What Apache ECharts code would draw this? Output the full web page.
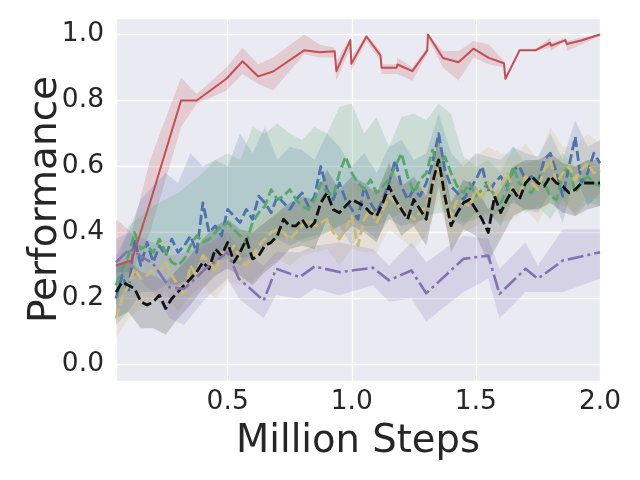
<!DOCTYPE html>
<html>
<head>
<meta charset="utf-8">
<script src="https://cdn.jsdelivr.net/npm/echarts@6/dist/echarts.min.js"></script>
<style>
  html, body { margin: 0; padding: 0; background: #fff; }
  #chart { width: 640px; height: 480px; }
</style>
</head>
<body>
<div id="chart"></div>
<script>
// Courbe rouge (trait plein)
const redX = [0.05,0.113,0.187,0.312,0.375,0.495,0.56,0.623,0.683,0.808,0.871,0.931,0.938,0.994,0.998,1.059,1.116,1.12,1.18,1.184,1.244,1.304,1.307,1.367,1.43,1.49,1.552,1.613,1.619,1.676,1.74,1.799,1.803,1.861,1.866,1.924,2.0];
const redY = [0.30,0.315,0.49,0.80,0.80,0.866,0.919,0.873,0.888,0.952,0.946,0.949,0.889,0.983,0.911,0.994,0.936,0.899,0.899,0.909,0.889,0.952,1.0,0.929,0.916,0.957,0.929,0.913,0.866,0.952,0.952,0.975,0.966,0.983,0.971,0.982,1.0];
const redLo = [0.28,0.28,0.40,0.72,0.79,0.83,0.88,0.85,0.83,0.94,0.93,0.93,0.86,0.96,0.89,0.98,0.92,0.88,0.88,0.88,0.86,0.94,0.99,0.90,0.86,0.93,0.91,0.90,0.86,0.95,0.95,0.96,0.95,0.98,0.95,0.97,0.995];
const redHi = [0.44,0.40,0.62,0.87,0.82,0.90,0.96,0.91,0.93,1.00,0.97,0.96,0.92,0.99,0.93,1.0,0.95,0.91,0.91,0.93,0.90,0.96,1.0,0.95,0.95,0.98,0.97,0.92,0.87,0.955,0.955,0.99,0.975,0.99,0.98,0.99,1.0];

// Courbe violette (tiret-point)
const purpleX = [0.05,0.105,0.20,0.265,0.325,0.41,0.50,0.545,0.645,0.695,0.79,0.85,0.95,1.085,1.15,1.24,1.30,1.45,1.55,1.595,1.70,1.75,1.85,2.0];
const purpleY = [0.31,0.35,0.305,0.234,0.229,0.29,0.34,0.26,0.194,0.29,0.265,0.297,0.28,0.293,0.255,0.285,0.216,0.32,0.33,0.214,0.29,0.26,0.315,0.34];
const purpleLo = [0.24,0.28,0.22,0.14,0.12,0.20,0.26,0.20,0.14,0.21,0.20,0.23,0.21,0.24,0.19,0.20,0.13,0.22,0.26,0.14,0.22,0.22,0.22,0.26];
const purpleHi = [0.38,0.40,0.37,0.33,0.34,0.36,0.40,0.35,0.30,0.34,0.34,0.36,0.37,0.35,0.30,0.37,0.31,0.39,0.38,0.29,0.37,0.30,0.41,0.41];

// Courbes bruitées (tirets)
const noisyX = [0.05,0.075,0.1,0.125,0.15,0.175,0.2,0.225,0.25,0.275,0.3,0.325,0.35,0.375,0.4,0.425,0.45,0.475,0.5,0.525,0.55,0.575,0.6,0.625,0.65,0.675,0.7,0.725,0.75,0.775,0.8,0.825,0.85,0.875,0.9,0.925,0.95,0.975,1.0,1.025,1.05,1.075,1.1,1.125,1.15,1.175,1.2,1.225,1.25,1.275,1.3,1.325,1.35,1.375,1.4,1.425,1.45,1.475,1.5,1.525,1.55,1.575,1.6,1.625,1.65,1.675,1.7,1.725,1.75,1.775,1.8,1.825,1.85,1.875,1.9,1.925,1.95,1.975,2.0];
const blueY = [0.20,0.27,0.22,0.38,0.30,0.37,0.31,0.36,0.33,0.38,
  0.34,0.36,0.39,0.34,0.49,0.40,0.42,0.39,0.47,0.45,
  0.43,0.47,0.44,0.51,0.49,0.46,0.51,0.49,0.47,0.50,
  0.52,0.48,0.51,0.60,0.53,0.50,0.55,0.50,0.47,0.44,
  0.54,0.49,0.46,0.50,0.55,0.62,0.54,0.50,0.53,0.51,
  0.55,0.61,0.70,0.59,0.54,0.52,0.50,0.53,0.56,0.60,
  0.52,0.55,0.57,0.54,0.59,0.60,0.56,0.57,0.55,0.62,
  0.64,0.58,0.51,0.60,0.69,0.55,0.58,0.64,0.61];
const greenY = [0.24,0.29,0.33,0.40,0.35,0.36,0.34,0.38,0.34,0.31,
  0.30,0.32,0.36,0.39,0.37,0.38,0.40,0.42,0.43,0.41,
  0.39,0.37,0.43,0.46,0.48,0.53,0.50,0.51,0.53,0.50,
  0.48,0.47,0.50,0.55,0.52,0.51,0.58,0.63,0.58,0.55,
  0.53,0.56,0.52,0.54,0.56,0.60,0.64,0.57,0.52,0.56,
  0.58,0.65,0.60,0.63,0.58,0.54,0.52,0.55,0.51,0.53,
  0.55,0.51,0.49,0.53,0.60,0.55,0.53,0.52,0.56,0.55,
  0.51,0.50,0.58,0.60,0.52,0.55,0.57,0.55,0.54];
const yellowY = [0.14,0.20,0.24,0.29,0.26,0.27,0.29,0.28,0.31,0.27,
  0.24,0.21,0.30,0.27,0.33,0.31,0.28,0.34,0.33,0.36,
  0.32,0.30,0.33,0.36,0.38,0.40,0.41,0.40,0.38,0.40,
  0.42,0.44,0.42,0.43,0.44,0.40,0.38,0.41,0.45,0.36,
  0.44,0.47,0.43,0.47,0.51,0.49,0.47,0.46,0.44,0.46,
  0.48,0.54,0.60,0.52,0.45,0.50,0.49,0.48,0.53,0.50,
  0.55,0.51,0.54,0.58,0.53,0.51,0.57,0.55,0.53,0.59,
  0.62,0.55,0.58,0.60,0.56,0.59,0.61,0.58,0.59];
const blackY = [0.22,0.25,0.24,0.23,0.19,0.18,0.19,0.21,0.17,0.20,
  0.22,0.24,0.26,0.28,0.31,0.29,0.35,0.33,0.37,0.31,
  0.34,0.38,0.32,0.33,0.36,0.37,0.39,0.44,0.42,0.42,
  0.44,0.41,0.43,0.49,0.52,0.47,0.46,0.48,0.50,0.49,
  0.48,0.46,0.45,0.49,0.54,0.50,0.47,0.44,0.50,0.47,
  0.44,0.55,0.62,0.51,0.42,0.46,0.49,0.50,0.47,0.44,
  0.40,0.51,0.46,0.50,0.53,0.50,0.55,0.57,0.55,0.54,
  0.57,0.55,0.54,0.52,0.53,0.55,0.55,0.55,0.55];

// Bandes des courbes bruitées
const bandX = [0.05,0.1,0.15,0.2,0.25,0.3,0.35,0.4,0.45,0.5,0.55,0.6,0.65,0.7,0.75,0.8,0.85,0.9,0.95,1.0,1.05,1.1,1.15,1.2,1.25,1.3,1.35,1.4,1.45,1.5,1.55,1.6,1.65,1.7,1.75,1.8,1.85,1.9,1.95,2.0];
const blueHi = [0.33,0.40,0.50,0.54,0.58,0.55,0.64,0.60,0.62,0.60,0.70,0.64,0.72,0.62,0.66,0.65,0.62,0.70,0.66,0.60,0.64,0.58,0.66,0.68,0.62,0.64,0.76,0.64,0.60,0.64,0.63,0.62,0.66,0.64,0.63,0.70,0.62,0.74,0.66,0.68];
const blueLo = [0.12,0.16,0.22,0.22,0.24,0.24,0.26,0.34,0.30,0.34,0.32,0.33,0.36,0.38,0.36,0.38,0.39,0.40,0.42,0.36,0.41,0.38,0.44,0.42,0.43,0.44,0.58,0.44,0.42,0.46,0.43,0.47,0.49,0.47,0.46,0.52,0.43,0.58,0.48,0.52];
const greenHi = [0.30,0.42,0.45,0.48,0.50,0.52,0.55,0.58,0.62,0.64,0.62,0.72,0.70,0.73,0.70,0.68,0.72,0.70,0.78,0.79,0.70,0.75,0.66,0.75,0.76,0.74,0.79,0.76,0.63,0.60,0.62,0.58,0.66,0.61,0.62,0.60,0.64,0.60,0.62,0.60];
const greenLo = [0.18,0.26,0.28,0.27,0.25,0.24,0.27,0.29,0.31,0.32,0.30,0.33,0.36,0.38,0.39,0.37,0.38,0.40,0.42,0.44,0.42,0.42,0.44,0.46,0.42,0.45,0.46,0.46,0.43,0.44,0.46,0.42,0.50,0.46,0.48,0.44,0.50,0.45,0.49,0.48];
const yellowHi = [0.22,0.32,0.34,0.36,0.38,0.32,0.36,0.40,0.36,0.42,0.40,0.42,0.46,0.49,0.46,0.50,0.50,0.52,0.46,0.55,0.54,0.52,0.60,0.56,0.53,0.57,0.68,0.58,0.62,0.63,0.66,0.64,0.63,0.67,0.62,0.72,0.66,0.66,0.70,0.67];
const yellowLo = [0.08,0.14,0.17,0.20,0.22,0.16,0.21,0.24,0.20,0.25,0.24,0.25,0.29,0.32,0.30,0.33,0.34,0.35,0.30,0.35,0.34,0.34,0.41,0.38,0.35,0.39,0.50,0.36,0.40,0.42,0.45,0.43,0.44,0.47,0.43,0.50,0.48,0.46,0.51,0.50];
const blackHi = [0.30,0.32,0.28,0.27,0.25,0.29,0.33,0.38,0.42,0.44,0.41,0.40,0.43,0.46,0.49,0.51,0.50,0.59,0.53,0.57,0.55,0.52,0.61,0.54,0.57,0.51,0.69,0.49,0.56,0.54,0.47,0.53,0.60,0.62,0.62,0.64,0.61,0.60,0.62,0.62];
const blackLo = [0.14,0.16,0.11,0.11,0.09,0.14,0.18,0.23,0.27,0.29,0.27,0.24,0.28,0.31,0.35,0.36,0.35,0.44,0.38,0.42,0.40,0.37,0.46,0.39,0.42,0.36,0.54,0.34,0.41,0.39,0.31,0.38,0.45,0.47,0.47,0.49,0.46,0.45,0.47,0.48];

// Couleurs (palette seaborn)
const COLORS = {
  red: '#C44E52',
  blue: '#4C72B0',
  green: '#55A868',
  yellow: '#CCB974',
  purple: '#8172B2',
  black: '#111111',
};

const FONT = 'DejaVu Sans';
const TEXT = '#262626';

function zip(xs, ys) {
  return xs.map((x, i) => [x, ys[i]]);
}

// Bande remplie entre lo et hi (polygone via les échelles de l'axe)
function bandSeries(xs, lo, hi, color, alpha) {
  return {
    type: 'custom', silent: true, z: 1,
    data: xs.map((x, i) => [x, lo[i], hi[i]]),
    encode: { x: 0, y: [1, 2] },
    renderItem: (params, api) => {
      if (params.dataIndex !== 0) return null;
      const top = xs.map((x, i) => api.coord([x, hi[i]]));
      const bottom = xs.map((x, i) => api.coord([x, lo[i]])).reverse();
      return {
        type: 'polygon',
        shape: { points: top.concat(bottom) },
        style: { fill: color, opacity: alpha },
      };
    },
  };
}

function lineSeries(xs, ys, color, width, dash) {
  return {
    type: 'line', data: zip(xs, ys), symbol: 'none', silent: true, z: 3,
    lineStyle: { color, width, type: dash, cap: 'butt', join: 'round' },
  };
}

const series = [
  bandSeries(redX, redLo, redHi, COLORS.red, 0.2),
  bandSeries(bandX, blueLo, blueHi, COLORS.blue, 0.2),
  bandSeries(bandX, greenLo, greenHi, COLORS.green, 0.2),
  bandSeries(bandX, yellowLo, yellowHi, COLORS.yellow, 0.2),
  bandSeries(bandX, blackLo, blackHi, '#000000', 0.16),
  bandSeries(purpleX, purpleLo, purpleHi, COLORS.purple, 0.2),
  lineSeries(noisyX, blueY, COLORS.blue, 2.8, [10, 4]),
  lineSeries(noisyX, greenY, COLORS.green, 2.8, [10, 4]),
  lineSeries(noisyX, yellowY, COLORS.yellow, 2.8, [10, 4]),
  lineSeries(noisyX, blackY, COLORS.black, 2.8, [10, 4]),
  lineSeries(purpleX, purpleY, COLORS.purple, 2.6, [16, 4, 3, 4]),
  lineSeries(redX, redY, COLORS.red, 2, 'solid'),
];

const chart = echarts.init(document.getElementById('chart'));
chart.setOption({
  animation: false,
  backgroundColor: '#ffffff',
  textStyle: { fontFamily: FONT },
  grid: {
    left: 116, right: 40, top: 18, bottom: 99,
    show: true, backgroundColor: '#EAEAF2', borderWidth: 0,
  },
  xAxis: {
    type: 'value', min: 0.05, max: 2.0, splitNumber: 4,
    axisLine: { show: false }, axisTick: { show: false },
    splitLine: { lineStyle: { color: '#ffffff', width: 1.3 } },
    axisLabel: {
      fontSize: 26.5, color: TEXT, fontFamily: FONT, margin: 8,
      showMinLabel: false, formatter: v => v.toFixed(1),
    },
    name: 'Million Steps', nameLocation: 'middle', nameGap: 41,
    nameTextStyle: { fontSize: 38.5, color: TEXT, fontFamily: FONT },
  },
  yAxis: {
    type: 'value', min: -0.05, max: 1.05, splitNumber: 5,
    axisLine: { show: false }, axisTick: { show: false },
    splitLine: { lineStyle: { color: '#ffffff', width: 1.3 } },
    axisLabel: {
      fontSize: 26.5, color: TEXT, fontFamily: FONT, margin: 12,
      showMinLabel: false, showMaxLabel: false, formatter: v => v.toFixed(1),
    },
    name: 'Performance', nameLocation: 'middle', nameGap: 51, nameMoveOverlap: false,
    nameTextStyle: { fontSize: 39, color: TEXT, fontFamily: FONT },
  },
  series,
});
</script>
</body>
</html>
